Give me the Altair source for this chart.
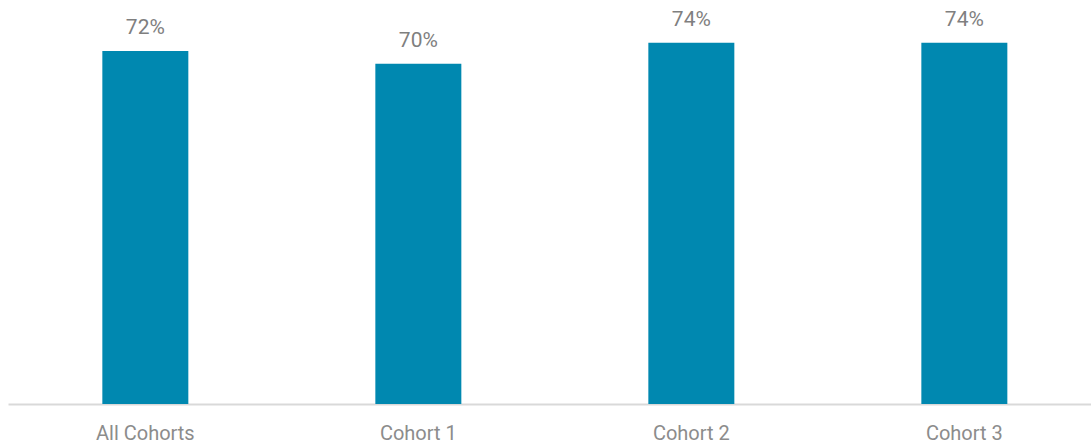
import altair as alt
import pandas as pd

categories = ["All Cohorts", "Cohort 1", "Cohort 2", "Cohort 3"]
values = [0.724, 0.698, 0.741, 0.741]
labels = ["72%", "70%", "74%", "74%"]

df = pd.DataFrame({"cat": categories, "val": values, "lab": labels})

x = alt.X("cat:N", sort=categories, title=None,
          scale=alt.Scale(paddingInner=0.685, paddingOuter=0.326, align=0.53),
          axis=alt.Axis(labelAngle=0, labelFont="Roboto", labelFontSize=20,
                        labelColor="#8c8c8c", labelPadding=19, ticks=False,
                        domainColor="#d9d9d9", domainWidth=2, grid=False))
y = alt.Y("val:Q", title=None, scale=alt.Scale(domain=[0, 0.8], nice=False),
          axis=None)

bars = alt.Chart(df).mark_bar(color="#0088b0").encode(x=x, y=y)
text = alt.Chart(df).mark_text(font="Roboto", fontSize=21, color="#7f7f7f",
                               baseline="alphabetic", dy=-17).encode(
    x=alt.X("cat:N", sort=categories), y="val:Q", text="lab:N")

chart = (bars + text).properties(
    width=1083, height=390,
    padding={"left": 8, "top": 14, "right": 0, "bottom": 41},
    autosize=alt.AutoSizeParams(type="none"),
    background="white",
).configure_view(strokeWidth=0, stroke=None)

chart.save("out.html", embed_options={"renderer": "svg", "actions": False})
